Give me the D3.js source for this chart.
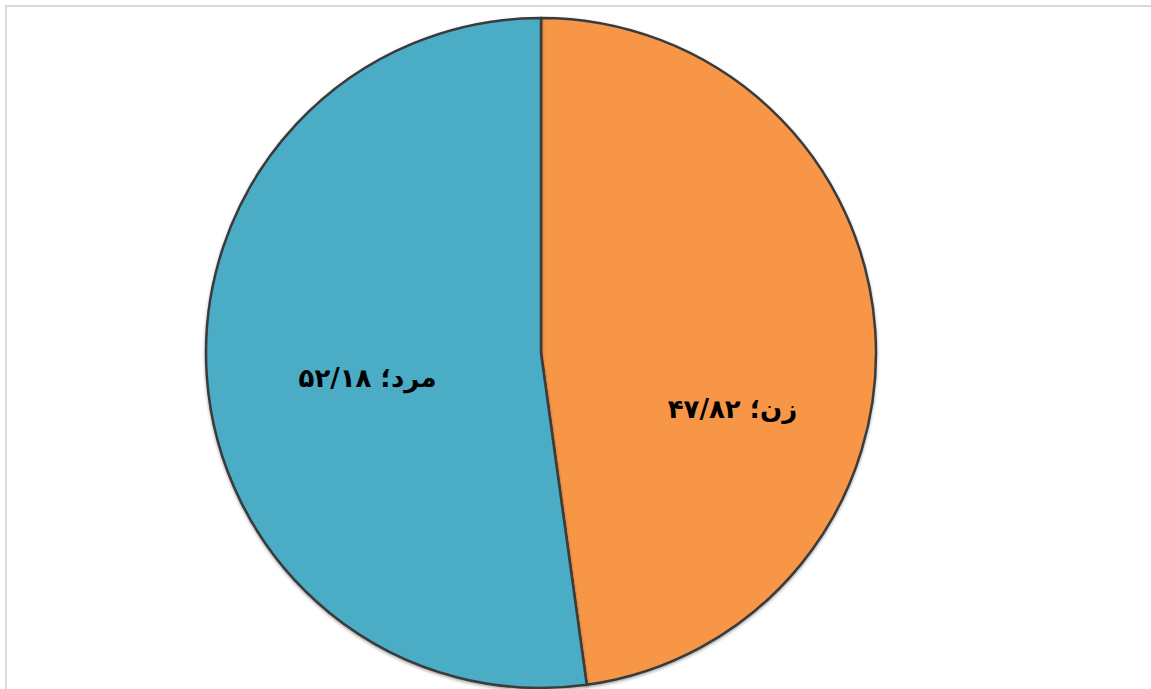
<!DOCTYPE html>
<html><head><meta charset="utf-8">
<script src="https://cdn.jsdelivr.net/npm/d3@7"></script>
<style>html,body{margin:0;padding:0;background:#fff;}svg{display:block;}</style>
</head><body>
<svg id="chart" width="1151" height="689"></svg>
<script>
const categories = ["زن", "مرد"];
const values = [47.82, 52.18];
const valueLabels = ["۴۷/۸۲", "۵۲/۱۸"];
const colors = ["#F79646", "#4BACC6"];

const W = 1151, H = 689;
const cx = 541, cy = 353, R = 335;
const svg = d3.select("#chart");

svg.append("rect").attr("x", 6).attr("y", 6).attr("width", W + 20).attr("height", H + 20)
  .attr("fill", "#fff").attr("stroke", "#d9d9d9").attr("stroke-width", 2);

const defs = svg.append("defs");
const f = defs.append("filter").attr("id", "sh").attr("x", "-10%").attr("y", "-10%").attr("width", "120%").attr("height", "120%");
f.append("feDropShadow").attr("dx", 0).attr("dy", 1.5).attr("stdDeviation", 1.5).attr("flood-color", "#000").attr("flood-opacity", 0.35);

const data = categories.map((c, i) => ({ cat: c, value: values[i], label: valueLabels[i], color: colors[i] }));
const pie = d3.pie().value(d => d.value).sort(null);
const arc = d3.arc().innerRadius(0).outerRadius(R);
const arcs = pie(data);

const g = svg.append("g").attr("transform", `translate(${cx},${cy})`);
g.selectAll("path").data(arcs).join("path")
  .attr("d", arc)
  .attr("fill", d => d.data.color)
  .attr("stroke", "#3a3a3a")
  .attr("stroke-width", 2.5)
  .attr("stroke-linejoin", "round")
  .attr("filter", "url(#sh)");

// label placement: centroid-based with offsets
const labelArc = d3.arc().innerRadius(0).outerRadius(R * 1.05);
const labelOffsets = [[16, 68], [2, 13]];
g.selectAll("text").data(arcs).join("text")
  .attr("transform", (d, i) => {
    const c = labelArc.centroid(d);
    return `translate(${c[0] + labelOffsets[i][0]},${c[1] + labelOffsets[i][1]})`;
  })
  .attr("text-anchor", "middle")
  .attr("dominant-baseline", "central")
  .attr("direction", "rtl")
  .attr("font-family", "DejaVu Sans, Noto Sans, sans-serif")
  .attr("font-size", 26)
  .attr("font-weight", "bold")
  .attr("fill", "#000")
  .text(d => `${d.data.cat}؛ ${d.data.label}`);
</script>
</body></html>
